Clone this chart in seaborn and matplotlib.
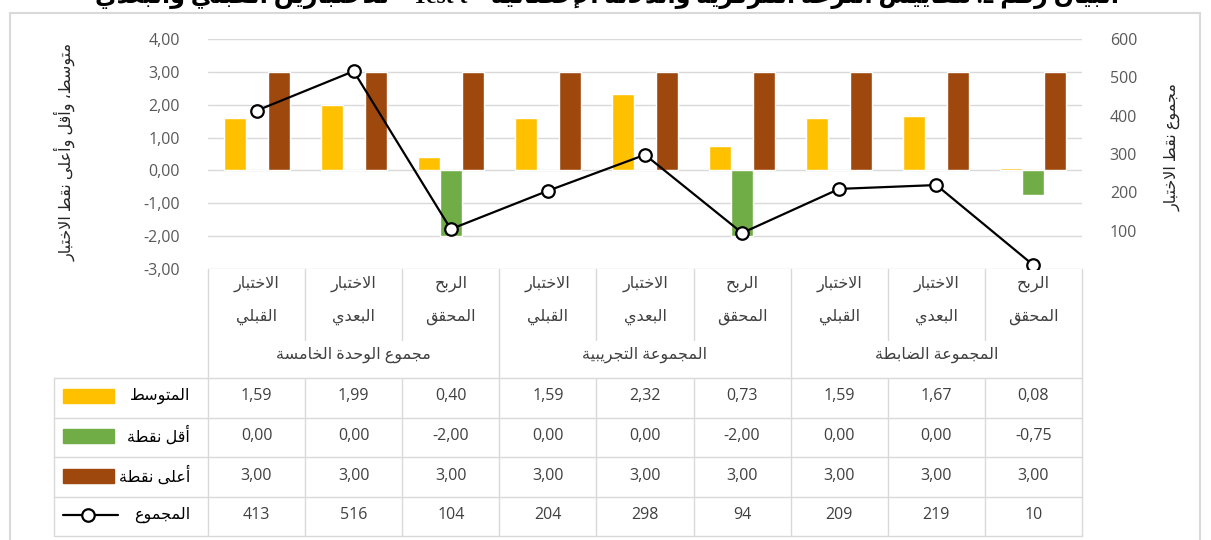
import re
import matplotlib
matplotlib.use("Agg")
import matplotlib.pyplot as plt
from matplotlib.lines import Line2D
from matplotlib.patches import Rectangle
from matplotlib import transforms
from matplotlib.ticker import FuncFormatter
import pandas as pd
import seaborn as sns

# ---- data ----
categories = ["الاختبار القبلي", "الاختبار البعدي", "الربح المحقق"] * 3
groups = ["مجموع الوحدة الخامسة", "المجموعة التجريبية", "المجموعة الضابطة"]
mean_vals = [1.59, 1.99, 0.40, 1.59, 2.32, 0.73, 1.59, 1.67, 0.08]
min_vals = [0.00, 0.00, -2.00, 0.00, 0.00, -2.00, 0.00, 0.00, -0.75]
max_vals = [3.00, 3.00, 3.00, 3.00, 3.00, 3.00, 3.00, 3.00, 3.00]
totals = [413, 516, 104, 204, 298, 94, 209, 219, 10]
series_names = ["المتوسط", "أقل نقطة", "أعلى نقطة"]
total_name = "المجموع"
colors = ["#FFC000", "#70AD47", "#9E480E"]
left_title = "متوسط، وأقل وأعلى نقط الاختبار"
right_title = "مجموع نقط الاختبار"
chart_title = "البيان رقم 2. مقاييس النزعة المركزية والدلالة الإحصائية – Test t – للاختبارين القبلي والبعدي"

# ---- arabic shaping (matplotlib has no shaping / bidi) ----
_letters = "ءآأؤإئابةتثجحخدذرزسشصضطظعغفقكلمنهوىي"
_nforms = [1, 2, 2, 2, 2, 4, 2, 4, 2, 4, 4, 4, 4, 4, 2, 2, 2, 2, 4, 4,
           4, 4, 4, 4, 4, 4, 4, 4, 4, 4, 4, 4, 4, 2, 2, 4]
FORMS = {}
_code = 0xFE80
for _ch, _n in zip(_letters, _nforms):
    FORMS[_ch] = (_code, _n)
    _code += _n
LAM_ALEF = {"ا": 0xFEFB, "أ": 0xFEF7, "إ": 0xFEF9, "آ": 0xFEF5}


def shape(text):
    out = []
    i = 0
    while i < len(text):
        c = text[i]
        if c not in FORMS:
            out.append(c)
            i += 1
            continue
        prev = text[i - 1] if i > 0 else ""
        nxt = text[i + 1] if i + 1 < len(text) else ""
        joins_prev = prev in FORMS and FORMS[prev][1] == 4
        if c == "ل" and nxt in LAM_ALEF:
            out.append(chr(LAM_ALEF[nxt] + int(joins_prev)))
            i += 2
            continue
        base, n = FORMS[c]
        joins_next = n == 4 and nxt in FORMS and nxt != "ء"
        if n == 1:
            out.append(chr(base))
        elif n == 2:
            out.append(chr(base + int(joins_prev)))
        else:
            if joins_prev and joins_next:
                out.append(chr(base + 3))
            elif joins_prev:
                out.append(chr(base + 1))
            elif joins_next:
                out.append(chr(base + 2))
            else:
                out.append(chr(base))
        i += 1
    return "".join(out)


def ar(text):
    s = shape(text)[::-1]
    return re.sub(r"[A-Za-z0-9]+(?: [A-Za-z0-9]+)*", lambda m: m.group(0)[::-1], s)


def fmt(v):
    return f"{v:.2f}".replace(".", ",")


# ---- figure ----
sns.set_style("white")
plt.rcParams["font.family"] = ["Open Sans", "DejaVu Sans"]

W, H = 1211, 540
fig = plt.figure(figsize=(W / 100, H / 100), dpi=100)
fy = lambda y: 1 - y / H
fx = lambda x: x / W

ax = fig.add_axes([fx(208), fy(269), 874 / W, 230 / H])

df = pd.DataFrame({
    "pos": list(range(9)) * 3,
    "series": [series_names[0]] * 9 + [series_names[1]] * 9 + [series_names[2]] * 9,
    "value": mean_vals + min_vals + max_vals,
})
sns.barplot(data=df, x="pos", y="value", hue="series", hue_order=series_names,
            palette=colors, width=0.68, saturation=1, errorbar=None,
            legend=False, ax=ax, zorder=2)

ax2 = ax.twinx()
sns.pointplot(x=list(range(9)), y=totals, ax=ax2, color="black", markers="o",
              markersize=9, linewidth=1.6, errorbar=None)
for l in ax2.lines:
    l.set_markerfacecolor("white")
    l.set_markeredgewidth(1.6)

ax.set_xlim(-0.5, 8.5)
ax.set_ylim(-3, 4)
ax.set_yticks(range(-3, 5))
ax.yaxis.set_major_formatter(FuncFormatter(lambda v, p: fmt(v)))
ax.yaxis.grid(True, color="#D9D9D9", lw=1)
ax.set_axisbelow(True)
ax2.set_ylim(0, 600)
ax2.set_yticks(range(100, 700, 100))
ax.set_xticks([])
ax.set_xlabel("")
ax.set_ylabel("")
ax2.set_ylabel("")
for a in (ax, ax2):
    for s in a.spines.values():
        s.set_visible(False)
    a.tick_params(axis="y", length=0, pad=20, labelsize=11.5, labelcolor="#595959")

fig.text(fx(65), fy(152), ar(left_title), rotation=90, ha="center", va="center",
         fontsize=11.5, color="#262626")
fig.text(fx(1172), fy(147), ar(right_title), rotation=90, ha="center", va="center",
         fontsize=11.5, color="#262626")

# title line, clipped at the top of the image as in the source
fig.text(fx(607), fy(3), ar(chart_title), ha="center", va="baseline", fontsize=17,
         fontweight="bold", family=["Liberation Serif", "DejaVu Sans"], color="black")

# ---- data table under the chart ----
tr = transforms.blended_transform_factory(ax.transData, fig.transFigure)
gc = "#D9D9D9"
txt = "#404040"

for i, cat in enumerate(categories):
    first, second = cat.split(" ")
    fig.text(i, fy(284), ar(first), transform=tr, ha="center", va="center",
             fontsize=11.5, color=txt)
    fig.text(i, fy(317), ar(second), transform=tr, ha="center", va="center",
             fontsize=11.5, color=txt)
for g, name in enumerate(groups):
    fig.text(3 * g + 1, fy(355), ar(name), transform=tr, ha="center", va="center",
             fontsize=11.5, color=txt)

for k in range(10):
    b = k - 0.5
    if k % 3 == 0:
        fig.add_artist(Line2D([b, b], [fy(269), fy(536)], transform=tr, color=gc, lw=1))
    else:
        fig.add_artist(Line2D([b, b], [fy(269), fy(340)], transform=tr, color=gc, lw=1))
        fig.add_artist(Line2D([b, b], [fy(378), fy(536)], transform=tr, color=gc, lw=1))
fig.add_artist(Line2D([fx(54), fx(54)], [fy(378), fy(536)], color=gc, lw=1))
for y in [378, 418, 457, 497, 536]:
    fig.add_artist(Line2D([fx(54), fx(1082)], [fy(y), fy(y)], color=gc, lw=1))

rows = [[fmt(v) for v in mean_vals], [fmt(v) for v in min_vals],
        [fmt(v) for v in max_vals], [str(v) for v in totals]]
row_y = [396, 436, 476, 515]
for r, (vals, y) in enumerate(zip(rows, row_y)):
    for i, v in enumerate(vals):
        fig.text(i, fy(y), v, transform=tr, ha="center", va="center",
                 fontsize=11.5, color=txt)

labels = series_names + [total_name]
for r, (name, y) in enumerate(zip(labels, row_y)):
    fig.text(fx(190), fy(y), ar(name), ha="right", va="center", fontsize=11.5,
             color="black")
    if r < 3:
        fig.add_artist(Rectangle((fx(63), fy(y + 7)), 51 / W, 14 / H,
                                 transform=fig.transFigure, color=colors[r]))
    else:
        fig.add_artist(Line2D([fx(63), fx(118)], [fy(y), fy(y)], color="black", lw=1.6))
        fig.add_artist(Line2D([fx(88)], [fy(y)], marker="o", markersize=9,
                              markerfacecolor="white", markeredgecolor="black",
                              markeredgewidth=1.6))

# outer chart frame
fig.add_artist(Rectangle((fx(10), fy(545)), 1190 / W, 532 / H, transform=fig.transFigure,
                         fill=False, edgecolor=gc, lw=1.5))

fig.savefig("out.png", dpi=100)
